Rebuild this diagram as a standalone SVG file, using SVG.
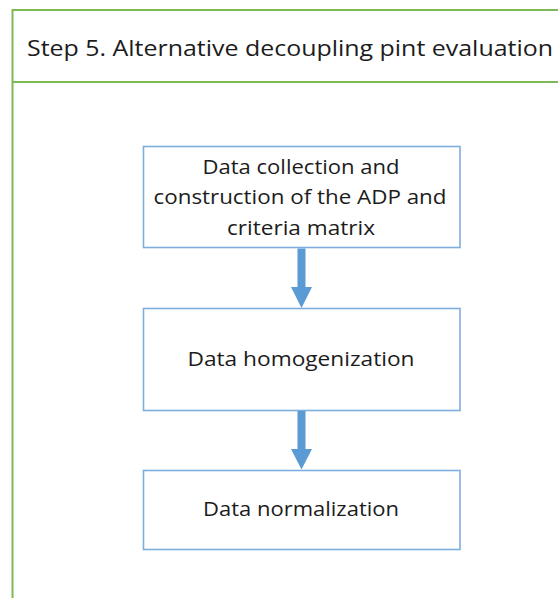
<svg xmlns="http://www.w3.org/2000/svg" width="558" height="598" viewBox="0 0 558 598">
  <style>
    .frame { fill: none; stroke: #7DB957; stroke-width: 2; }
    .box { fill: #ffffff; stroke: #7EADE0; stroke-width: 1.6; }
    .arrow { fill: #5B9BD5; stroke: none; }
    .txt { font-family: "Open Sans", "Liberation Sans", sans-serif; fill: #1c1c1c; text-anchor: middle; }
    .title { font-size: 21px; text-anchor: start; }
    .lbl { font-size: 20px; }
  </style>
  <rect width="558" height="598" fill="#ffffff"/>

  <!-- step panel with header -->
  <g id="panel">
    <rect class="frame" x="12.5" y="10" width="560" height="600"/>
    <line class="frame" x1="12.5" y1="82" x2="560" y2="82"/>
    <text class="txt title" x="27" y="56" textLength="526" lengthAdjust="spacingAndGlyphs">Step 5. Alternative decoupling pint evaluation</text>
  </g>

  <g id="collection">
    <rect class="box" x="143.5" y="146.5" width="316.5" height="101"/>
    <text class="txt lbl" x="301" y="174" textLength="197" lengthAdjust="spacingAndGlyphs">Data collection and</text>
    <text class="txt lbl" x="300" y="204" textLength="293" lengthAdjust="spacingAndGlyphs">construction of the ADP and</text>
    <text class="txt lbl" x="301" y="235" textLength="148" lengthAdjust="spacingAndGlyphs">criteria matrix</text>
  </g>

  <g id="homogenization">
    <rect class="box" x="143.5" y="308.5" width="316.5" height="102"/>
    <text class="txt lbl" x="301" y="366" textLength="227" lengthAdjust="spacingAndGlyphs">Data homogenization</text>
  </g>

  <g id="normalization">
    <rect class="box" x="143.5" y="470.5" width="316.5" height="79"/>
    <text class="txt lbl" x="301" y="516" textLength="196" lengthAdjust="spacingAndGlyphs">Data normalization</text>
  </g>

  <g id="connectors">
    <path class="arrow" d="M297.5,248.5 H305.5 V287 H312 L301.5,308 L291,287 H297.5 Z"/>
    <path class="arrow" d="M297.5,411 H305.5 V449 H312 L301.5,469.5 L291,449 H297.5 Z"/>
  </g>
</svg>
